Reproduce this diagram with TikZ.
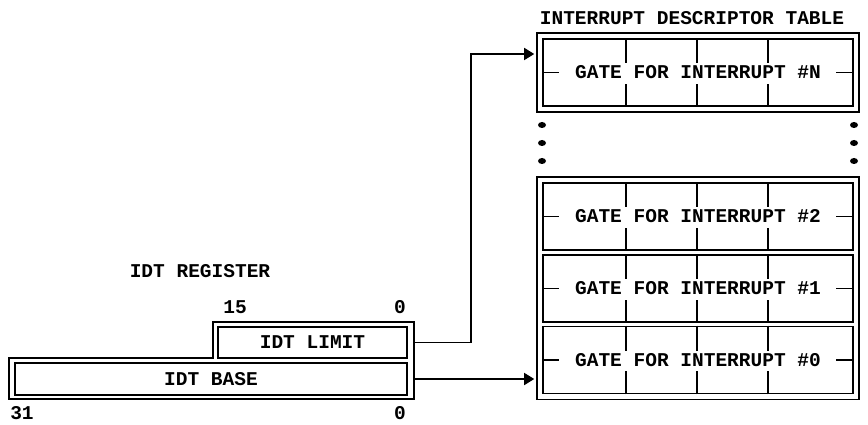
\documentclass[tikz,border=0pt]{standalone}
\usepackage{fontspec}
\setmonofont{Liberation Mono}
\usetikzlibrary{positioning,fit,arrows.meta}

\begin{document}
\begin{tikzpicture}[x=1pt, y=-1pt,
  lbl/.style={font=\ttfamily\bfseries\fontsize{19.5}{20}\selectfont, inner sep=0pt},
  gate/.style={draw, line width=1.6pt, minimum width=310pt, minimum height=67pt, inner sep=0pt, lbl},
  regbox/.style={draw, line width=1.6pt, minimum height=31pt, inner sep=0pt, lbl},
  frame/.style={draw, line width=1.6pt, inner sep=5pt},
  link/.style={line width=1.6pt, -{Triangle[length=10pt,width=12pt]}}]

  \useasboundingbox (0,0) rectangle (868,425);

  %% descriptor table
  \node[lbl] (title) at (692,18) {INTERRUPT DESCRIPTOR TABLE};
  \node[gate] (gN) at (698,72.5) {GATE FOR INTERRUPT \#N};
  \node[gate] (g2) at (698,216.5) {GATE FOR INTERRUPT \#2};
  \node[gate] (g1) at (698,288.5) {GATE FOR INTERRUPT \#1};
  \node[gate] (g0) at (698,360) {GATE FOR INTERRUPT \#0};
  \node[frame, fit=(gN)] (topframe) {};
  \node[frame, fit=(g2)(g0)] (lowframe) {};

  % tick marks
  \foreach \g in {gN,g2,g1,g0} {
    \foreach \dx in {84,155,226} {
      \draw[line width=1.6pt] (\g.north west) ++(\dx,0) -- ++(0,25);
      \draw[line width=1.6pt] (\g.south west) ++(\dx,0) -- ++(0,-23);
    }
    \draw[line width=1.6pt] (\g.west) -- ++(17,0);
    \draw[line width=1.6pt] (\g.east) -- ++(-18,0);
  }

  % dots
  \foreach \y in {125,143,161} {
    \fill (542,\y) ellipse (4pt and 3pt);
    \fill (854,\y) ellipse (4pt and 3pt);
  }

  %% IDT register
  \node[lbl] (regname) at (200,271) {IDT REGISTER};
  \node[regbox, minimum width=189pt] (limit) at (312.5,342.5) {IDT LIMIT};
  \node[regbox, minimum width=392pt, minimum height=32pt] (base) at (211,379) {IDT BASE};
  \draw[line width=1.6pt] (9,399) -- (414,399) -- (414,322) -- (213,322) -- (213,358) -- (9,358) -- cycle;
  \node[lbl] (b15) at (235,307) {15};
  \node[lbl] (b0top) at (400,307) {0};
  \node[lbl] (b31) at (22,413) {31};
  \node[lbl] (b0bot) at (400,413) {0};

  %% pointers
  \draw[link] ([xshift=7pt]limit.east) -- ++(56,0) |- ([xshift=-8pt,yshift=18.5pt]gN.west);
  \draw[link] ([xshift=7pt]base.east) -- ([xshift=-8pt]g0.west |- base.east);
\end{tikzpicture}
\end{document}
